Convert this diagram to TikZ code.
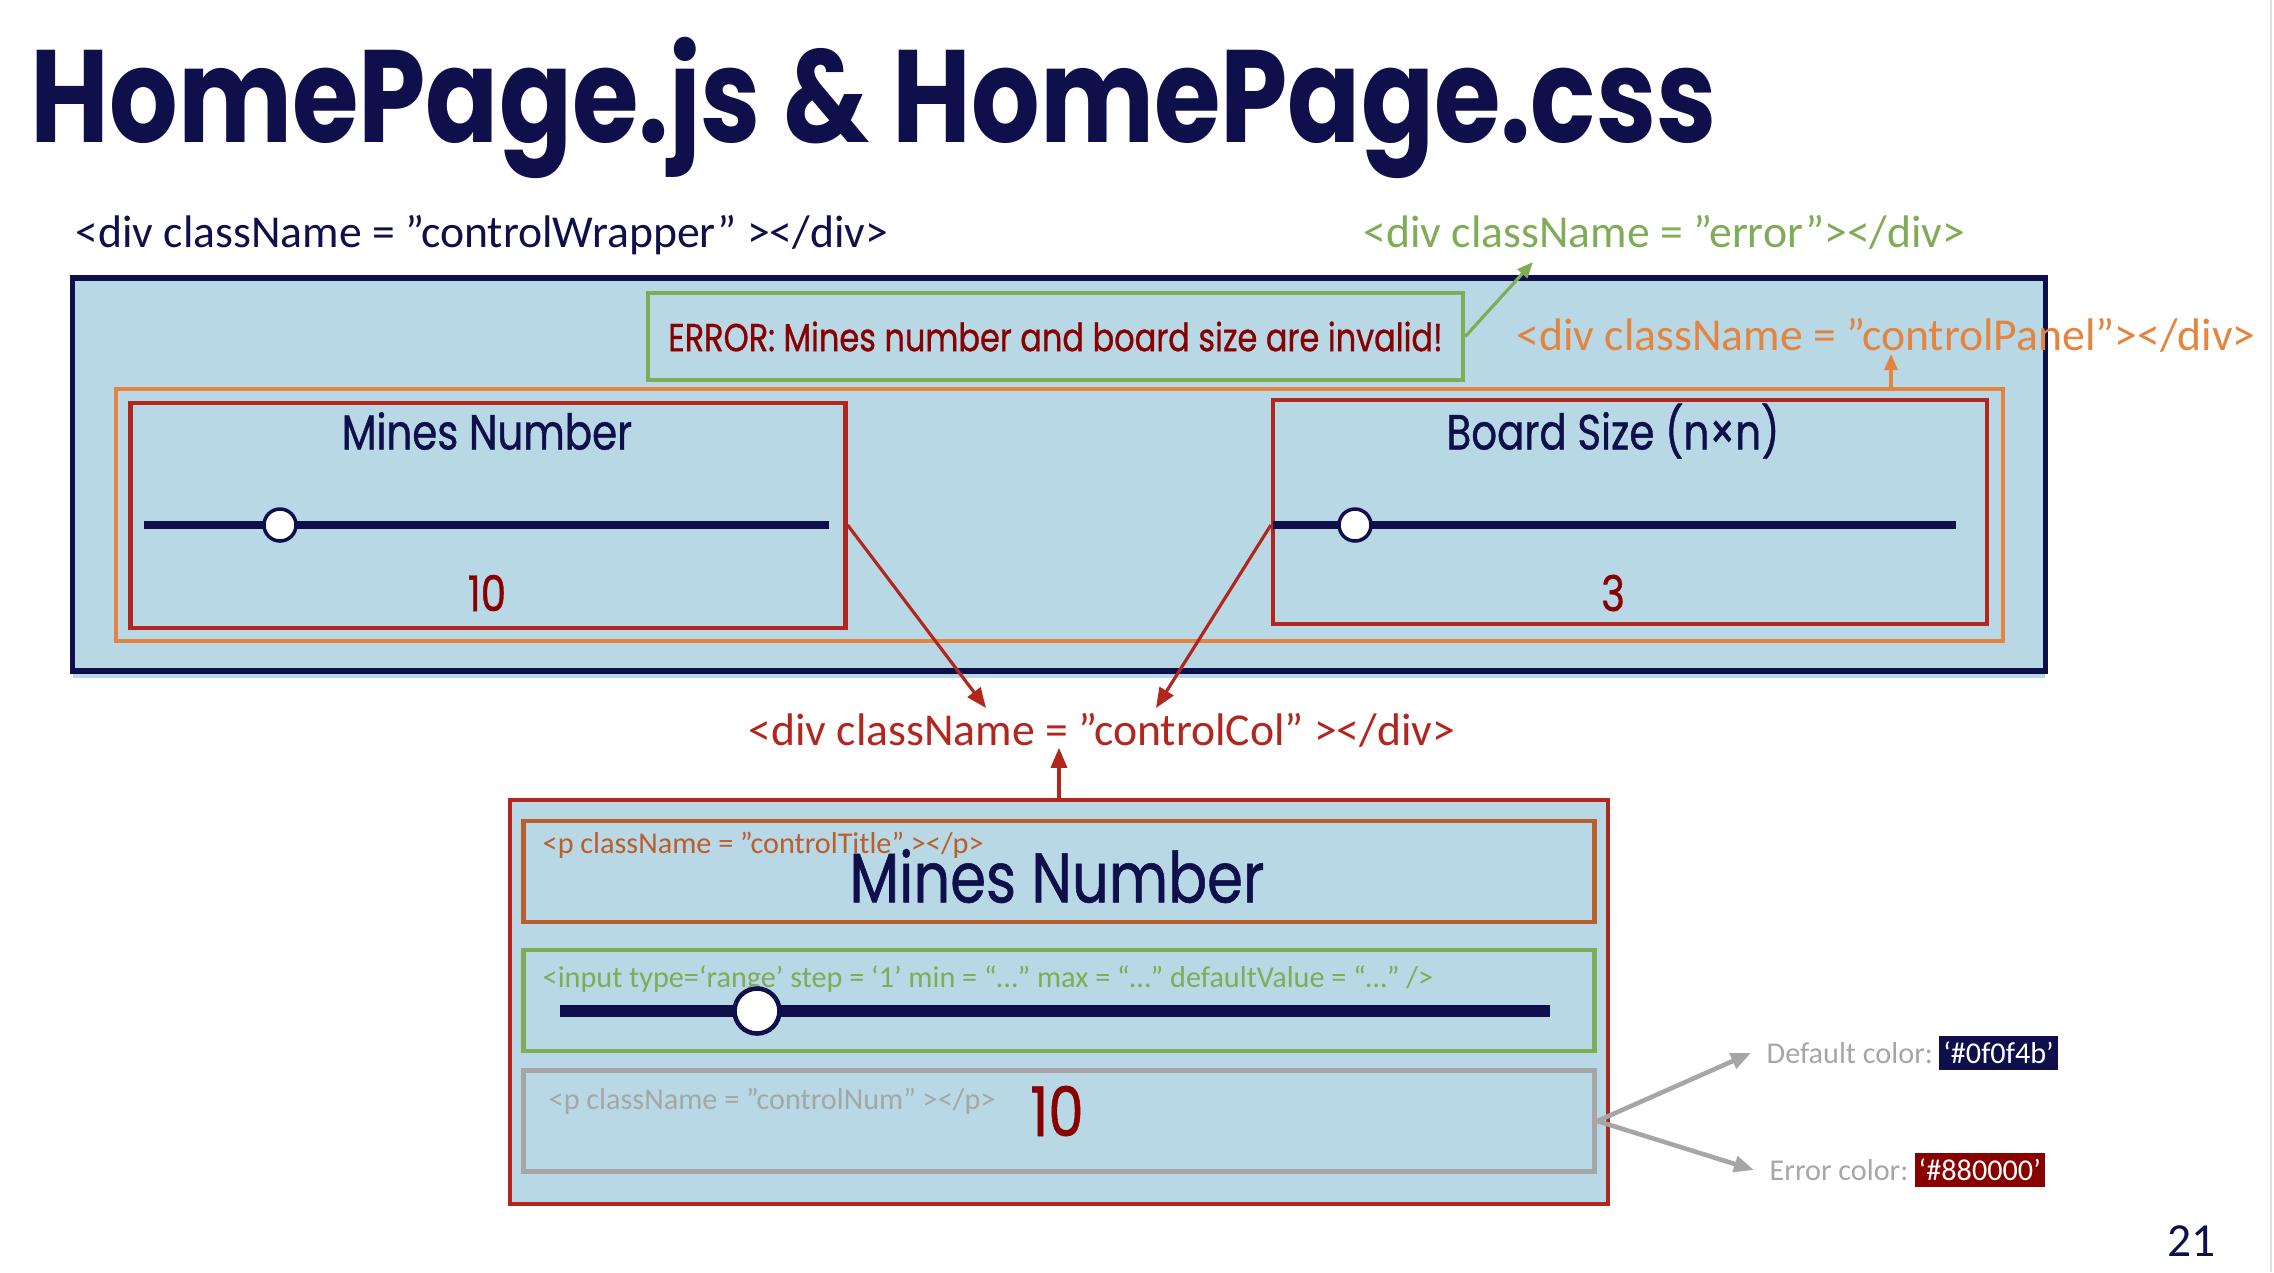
\documentclass[tikz,border=0pt]{standalone}
\usepackage{fontspec}
\setmainfont{Carlito}
\newfontfamily\geo[FakeStretch=0.82]{Poppins}
\newfontfamily\geomed[FakeStretch=0.82, FakeBold=0.8]{Poppins}
\usepackage{tikz}
\usetikzlibrary{positioning,arrows.meta,calc}

\definecolor{navy}{HTML}{0F0F4B}
\definecolor{errred}{HTML}{880000}
\definecolor{boxred}{HTML}{B3261E}
\definecolor{paleblue}{HTML}{B7D8E4}
\definecolor{grn}{HTML}{7FAC57}
\definecolor{orng}{HTML}{E4843F}
\definecolor{rust}{HTML}{BA5E2C}
\definecolor{midgray}{HTML}{A6A6A6}

\begin{document}
\begin{tikzpicture}[
    x=1mm, y=-1mm,
    box/.style={draw, rectangle, inner sep=0pt, line width=1.2pt},
    tag/.style={inner sep=0pt, font=\fontsize{13}{15}\selectfont},
    note/.style={inner sep=0pt, font=\fontsize{8.6}{10}\selectfont},
    ui/.style={inner sep=0pt, font=\geomed\fontsize{14}{16}\selectfont},
    track/.style={navy, line width=2.3pt},
    knob/.style={circle, draw=navy, fill=white, line width=1pt, inner sep=0pt},
    ptr/.style={-{Triangle[length=2mm, width=1.6mm]}, line width=0.9pt},
    hex/.style={note, text=white, inner xsep=0.4mm, inner ysep=0.6mm},
  ]

  % ---------- page ----------
  \useasboundingbox (0,0) rectangle (227.4,127.2);
  \draw[gray!25, line width=0.5pt] (227.1,0) -- (227.1,127.2);

  \node[anchor=base west, inner sep=0pt, text=navy,
        font=\geo\bfseries\fontsize{37.4}{42}\selectfont] (title) at (3.0,14.2)
    {HomePage.js \& HomePage.css};

  % ---------- controlWrapper ----------
  \node[tag, anchor=west, text=navy] (wrapLbl) at (7.5,23.5)
    {<div className = ”controlWrapper” ></div>};
  \fill[paleblue] (7.25,27.8) rectangle (204.5,67.8);
  \node[box, draw=navy, fill=paleblue, line width=1.5pt,
        minimum width=197.25mm, minimum height=39.3mm] (wrap) at (105.9,47.45) {};

  % ---------- error div ----------
  \node[box, draw=grn, line width=1.3pt, minimum width=81.5mm, minimum height=8.7mm,
        text=errred, font=\geomed\fontsize{11.1}{13}\selectfont] (errBox) at (105.55,33.65)
    {ERROR: Mines number and board size are invalid!};
  \node[tag, anchor=west, text=grn] (errLbl) at (136.3,23.2)
    {<div className = ”error”></div>};
  \coordinate (errTip) at (153.3,26.2);
  \draw[ptr, grn, -{Triangle[length=1.6mm, width=1.3mm]}] (errBox.east) -- (errTip);

  % ---------- controlPanel ----------
  \node[box, draw=orng, minimum width=188.7mm, minimum height=25.2mm] (panel) at (105.95,51.5) {};
  \node[tag, anchor=west, text=orng] (panelLbl) at (151.6,33.5)
    {<div className = ”controlPanel”></div>};
  \coordinate (panelTip) at (189.1,35.4);
  \draw[ptr, orng, -{Triangle[length=1.6mm, width=1.3mm]}] (panel.north -| panelTip) -- (panelTip);

  % ---------- controlCol: mines ----------
  \node[box, draw=boxred, minimum width=71.5mm, minimum height=22.5mm] (colL) at (48.8,51.55) {};
  \node[ui, text=navy] (titleL) at (48.7,43.1) {Mines Number};
  \draw[track] (14.4,52.5) -- (82.9,52.5);
  \node[knob, minimum size=3.2mm] (knobL) at (28.0,52.5) {};
  \node[ui, text=errred] (numL) at (48.7,59.3) {10};

  % ---------- controlCol: board size ----------
  \node[box, draw=boxred, minimum width=71.4mm, minimum height=22.4mm] (colR) at (163.0,51.2) {};
  \node[ui, text=navy] (titleR) at (161.3,43.1) {Board Size (n×n)};
  \draw[track] (127.3,52.5) -- (195.6,52.5);
  \node[knob, minimum size=3.2mm] (knobR) at (135.5,52.5) {};
  \node[ui, text=errred] (numR) at (161.3,59.3) {3};

  % ---------- controlCol label ----------
  \node[tag, text=boxred] (colLbl) at (110.2,73.0)
    {<div className = ”controlCol” ></div>};
  \coordinate (tipA) at (98.6,70.8);
  \coordinate (tipB) at (115.6,70.8);
  \draw[ptr, boxred] (colL.east |- knobL) -- (tipA);
  \draw[ptr, boxred] (colR.west |- knobR) -- (tipB);

  % ---------- expanded controlCol ----------
  \node[box, draw=boxred, fill=paleblue, minimum width=109.75mm, minimum height=40.4mm] (col) at (105.9,100.2) {};
  \draw[ptr, boxred] (col.north) -- (col.north |- colLbl.south);

  \node[box, draw=rust, line width=1.4pt, minimum width=107.15mm, minimum height=10.1mm] (ttlBox) at (105.9,87.15) {};
  \node[ui, text=navy, font=\geomed\fontsize{20}{23}\selectfont] (ttlTxt) at (105.7,87.6) {Mines Number};
  \node[note, anchor=west, text=rust] (ttlLbl) at (54.2,84.5)
    {<p className = ”controlTitle” ></p>};

  \node[box, draw=grn, line width=1.4pt, minimum width=107.15mm, minimum height=10.1mm] (inBox) at (105.9,100.05) {};
  \node[note, anchor=west, text=grn] (inLbl) at (54.2,97.9)
    {<input type=‘range’ step = ‘1’ min = “…” max = “…” defaultValue = “…” />};
  \draw[track, line width=3.4pt] (56.0,101.1) -- (155.0,101.1);
  \node[knob, minimum size=4.5mm, line width=1.3pt] (knobC) at (75.7,101.1) {};

  \node[box, draw=midgray, line width=1.4pt, minimum width=107.15mm, minimum height=10.1mm] (numBox) at (105.9,112.1) {};
  \node[note, anchor=west, text=midgray] (numLbl) at (54.8,110.1)
    {<p className = ”controlNum” ></p>};
  \node[ui, text=errred, font=\geomed\fontsize{19.5}{22}\selectfont] (numTxt) at (105.7,111.1) {10};

  % ---------- colours of controlNum ----------
  \node[note, anchor=west, text=midgray] (defLbl) at (176.6,105.3) {Default color:};
  \node[hex, fill=navy, right=0.5mm of defLbl] (defHex) {‘\#0f0f4b’};
  \node[note, anchor=west, text=midgray] (errClr) at (176.9,117.0) {Error color:};
  \node[hex, fill=errred, right=0.5mm of errClr] (errHex) {‘\#880000’};
  \draw[ptr, midgray, line width=1.3pt] (numBox.east) -- ([xshift=-1.5mm]defLbl.west);
  \draw[ptr, midgray, line width=1.3pt] (numBox.east) -- ([xshift=-1.5mm]errClr.west);

  \node[anchor=base west, inner sep=0pt, text=navy, font=\fontsize{13.5}{16}\selectfont] (pgNum) at (216.7,125.6) {21};

\end{tikzpicture}
\end{document}
